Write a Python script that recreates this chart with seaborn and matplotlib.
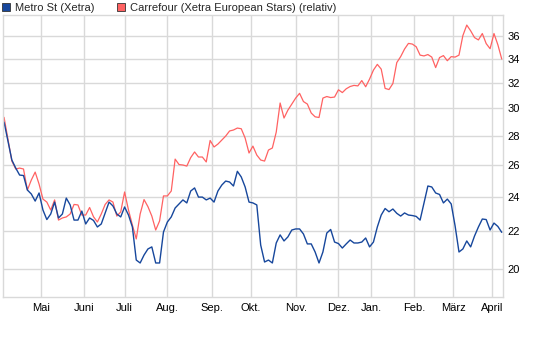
import numpy as np
import pandas as pd
import seaborn as sns
import matplotlib.pyplot as plt
from matplotlib.patches import Patch
from matplotlib.ticker import FixedLocator, NullLocator

# closing values sampled every 2nd Xetra trading day, 2 Apr 2012 .. 9 Apr 2013
metro = [
    28.98, 27.63, 26.34, 25.81, 25.36, 25.33, 24.42, 24.18, 23.75, 24.24,
    23.22, 22.67, 22.99, 23.69, 22.76, 22.99, 23.93, 23.52, 22.64, 22.64,
    23.16, 22.42, 22.76, 22.62, 22.25, 22.42, 23.05, 23.69, 23.46, 22.99,
    22.82, 23.40, 22.93, 22.25, 20.47, 20.32, 20.73, 21.05, 21.16, 20.32,
    20.32, 21.97, 22.53, 22.82, 23.34, 23.58, 23.82, 23.64, 24.36, 24.55,
    23.99, 23.99, 23.82, 23.93, 23.69, 24.36, 24.73, 24.98, 24.92, 24.67,
    25.60, 25.24, 24.61, 23.69, 23.64, 23.52, 21.26, 20.37, 20.47, 20.32,
    21.37, 21.81, 21.48, 21.70, 22.08, 22.14, 22.14, 21.86, 21.32, 21.32,
    20.89, 20.32, 20.89, 21.91, 22.11, 21.42, 21.34, 21.10, 21.32, 21.53,
    21.37, 21.37, 21.42, 21.64, 21.16, 21.42, 22.25, 22.93, 23.31, 23.12,
    23.28, 23.03, 22.87, 23.05, 22.93, 22.90, 22.85, 22.64, 23.64, 24.67,
    24.61, 24.24, 24.15, 23.64, 23.87, 23.58, 22.31, 20.89, 21.05, 21.48,
    21.16, 21.75, 22.25, 22.70, 22.67, 22.08, 22.47, 22.28, 21.95,
]
carrefour = [
    29.33, 27.77, 26.27, 25.75, 25.81, 25.75, 24.42, 25.04, 25.55, 24.79,
    23.87, 23.69, 23.22, 23.82, 22.64, 22.76, 22.82, 22.99, 23.55, 23.52,
    22.93, 22.93, 23.37, 22.83, 22.53, 22.99, 23.55, 23.82, 23.69, 22.87,
    23.11, 24.30, 23.22, 22.36, 21.59, 22.99, 23.84, 23.42, 22.87, 22.08,
    22.59, 24.06, 24.06, 24.36, 26.40, 26.04, 26.01, 25.94, 26.50, 26.88,
    26.54, 26.54, 26.21, 27.67, 27.22, 27.42, 27.70, 27.98, 28.34, 28.41,
    28.55, 28.50, 27.84, 26.81, 27.28, 26.67, 26.34, 26.27, 27.01, 27.15,
    28.26, 30.41, 29.28, 29.87, 30.33, 30.79, 31.16, 30.52, 30.33, 29.65,
    29.37, 29.32, 30.79, 30.91, 30.83, 30.87, 31.44, 31.22, 31.52, 31.70,
    31.79, 31.75, 32.18, 31.68, 32.30, 33.04, 33.52, 33.12, 31.55, 31.46,
    31.94, 33.67, 34.18, 34.84, 35.34, 35.28, 35.04, 34.31, 34.24, 34.36,
    34.14, 33.25, 34.10, 34.27, 33.83, 34.18, 34.14, 34.31, 36.04, 37.01,
    36.48, 35.86, 35.65, 36.23, 35.32, 34.87, 36.23, 35.22, 33.97,
]
month_labels = ['Mai', 'Juni', 'Juli', 'Aug.', 'Sep.', 'Okt.', 'Nov.',
                'Dez.', 'Jan.', 'Feb.', 'März', 'April']
y_ticks = [20, 22, 24, 26, 28, 30, 32, 34, 36]

# Xetra trading calendar
holidays = pd.to_datetime(['2012-04-06', '2012-04-09', '2012-05-01', '2012-12-24',
                           '2012-12-25', '2012-12-26', '2012-12-31', '2013-01-01',
                           '2013-03-29', '2013-04-01'])
days = pd.bdate_range('2012-04-02', '2013-04-09')
days = days[~days.isin(holidays)]
pos = np.arange(len(days))

df = pd.DataFrame({'pos': pos[::2], 'metro': metro, 'carrefour': carrefour})

month_start = pd.Series(pos, index=days).groupby([days.year, days.month]).first().values[1:]

sns.set_style('white')
plt.rcParams['font.family'] = ['Liberation Sans', 'DejaVu Sans']

blue = '#17479c'
red = '#ff6262'
grid_c = '#d9d9d9'

fig = plt.figure(figsize=(5.45, 3.6), dpi=100)
ax = fig.add_axes([0.0055, 0.175, 0.918, 0.783])

sns.lineplot(data=df, x='pos', y='carrefour', ax=ax, color=red, linewidth=0.9)
sns.lineplot(data=df, x='pos', y='metro', ax=ax, color=blue, linewidth=1.0)

ax.set_yscale('log')
ax.set_ylim(18.65, 37.95)
ax.set_xlim(-0.55, 256.8)
ax.yaxis.set_major_locator(FixedLocator(y_ticks))
ax.yaxis.set_minor_locator(NullLocator())
ax.set_yticklabels([str(t) for t in y_ticks])
ax.yaxis.tick_right()
ax.set_xticks(month_start)
ax.set_xticklabels(month_labels)
ax.tick_params(axis='both', length=0, labelsize=8, colors='black', pad=3)
ax.tick_params(axis='x', pad=4)
ax.grid(True, color=grid_c, linewidth=1)
ax.set_axisbelow(True)
ax.set_xlabel('')
ax.set_ylabel('')
for s in ax.spines.values():
    s.set_color(grid_c)
    s.set_linewidth(1)

handles = [Patch(facecolor=blue, edgecolor='#333333', linewidth=0.6),
           Patch(facecolor=red, edgecolor='#333333', linewidth=0.6)]
fig.legend(handles, ['Metro St (Xetra)', 'Carrefour (Xetra European Stars) (relativ)'],
           loc='upper left', bbox_to_anchor=(-0.009, 1.01), ncol=2, frameon=False,
           fontsize=8, handlelength=0.75, handleheight=0.75, handletextpad=0.4,
           columnspacing=2.05, borderaxespad=0.2)

fig.savefig('out.png', dpi=100)
